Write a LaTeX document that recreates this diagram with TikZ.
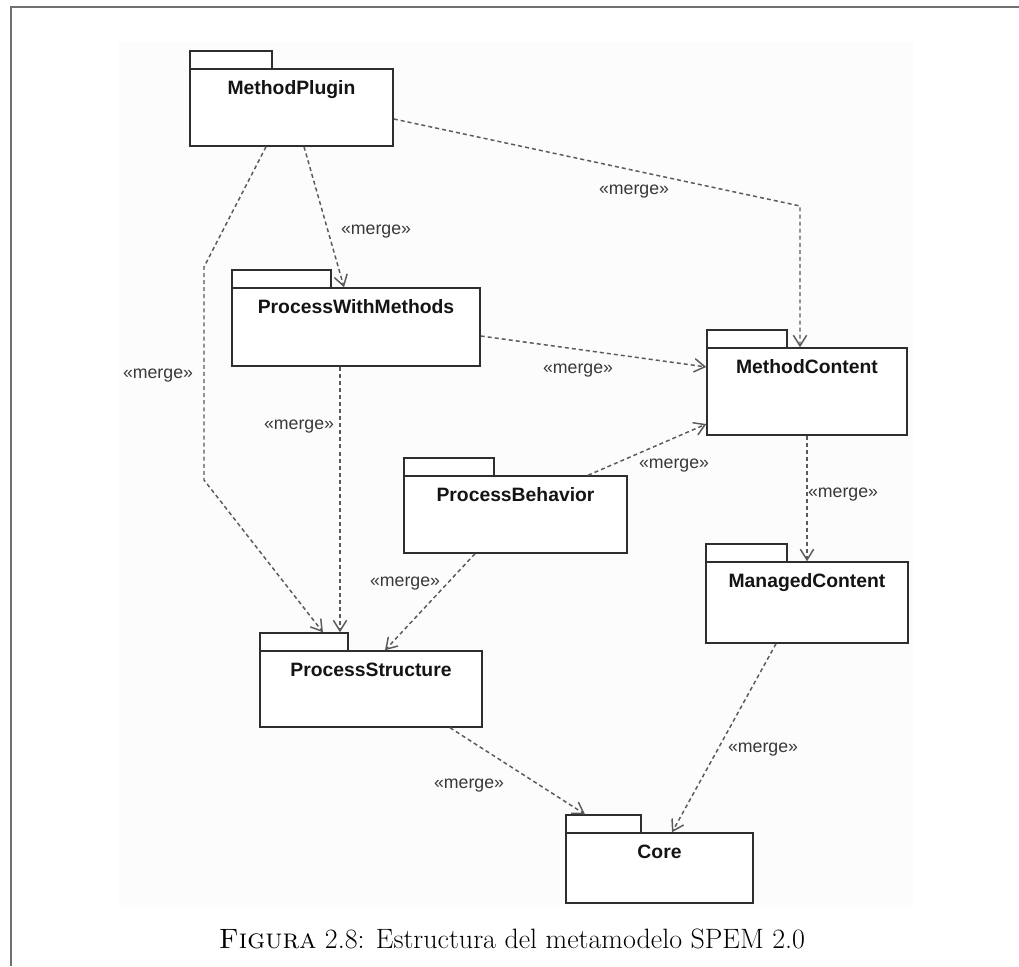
\documentclass[tikz,border=0pt]{standalone}
\usepackage{fontspec}
\newfontfamily\diagfont{Liberation Sans}
\usetikzlibrary{arrows.meta,fit}

\definecolor{framegray}{HTML}{707070}
\definecolor{pkgedge}{HTML}{2E2E2E}
\definecolor{depline}{HTML}{5A5A5A}
\definecolor{labelgray}{HTML}{3A3838}
\definecolor{canvas}{HTML}{FCFCFC}

\tikzset{
  pkgline/.style={draw=pkgedge, line width=1.1pt, line join=miter},
  pkgbody/.style={pkgline, fill=white, inner sep=0pt},
  pkgtitle/.style={font=\diagfont\bfseries\fontsize{14.5}{17}\selectfont,
    text=black!92, anchor=base, inner sep=0pt},
  merge/.style={draw=depline, line width=1.1pt, dash pattern=on 3pt off 2.3pt,
    -{Straight Barb[length=8pt,width=10pt,line width=1.1pt]}},
  mlabel/.style={font=\diagfont\fontsize{13.3}{16}\selectfont, text=labelgray, inner sep=0pt},
}

% UML package: name, body top-left (x,y), body bottom-right (x,y), tab right x, title
\newcommand{\umlpkg}[7]{%
  \node[pkgbody, fit={(#2,#3) (#4,#5)}] (#1) {};
  \node[pkgbody, fit={(#2,#3-18) (#6,#3)}] (#1-tab) {};
  \node[pkgtitle] (#1-title) at ([yshift=-19.5pt]#1.north) {#7};
}

\begin{document}
\begin{tikzpicture}[x=0.75pt,y=-0.75pt]
  \useasboundingbox (0,0) rectangle (1019,966);

  % page frame and diagram canvas
  \fill[canvas] (119,42) rectangle (913,907);
  \draw[framegray, line width=1.5pt] (1019,7) -- (11,7) -- (11,966);

  % packages
  \umlpkg{mp}{190}{69}{393}{146}{272}{MethodPlugin}
  \umlpkg{pwm}{232}{288}{480}{366}{331}{ProcessWithMethods}
  \umlpkg{mc}{707}{348}{907}{435}{787}{MethodContent}
  \umlpkg{pb}{404}{476}{627}{553}{494}{ProcessBehavior}
  \umlpkg{mgc}{706}{562}{908}{643}{787}{ManagedContent}
  \umlpkg{ps}{260}{651}{482}{727}{348}{ProcessStructure}
  \umlpkg{core}{566}{833}{753}{903}{641}{Core}

  % bend points
  \coordinate (b1) at (800,206);
  \coordinate (b3a) at (204,267);
  \coordinate (b3b) at (204,480);
  \coordinate (s4) at ([xshift=-12pt]pwm.south);

  % merge dependencies
  \draw[merge] ([yshift=-8.6pt]mp.east) -- (b1) -- (b1 |- mc.north);
  \draw[merge] ([xshift=9.4pt]mp.south) -- ([xshift=-9pt]pwm.north);
  \draw[merge] ([xshift=-19.1pt]mp.south) -- (b3a) -- (b3b) -- ([xshift=14.2pt]ps-tab.north);
  \draw[merge] (s4) -- (s4 |- ps-tab.north);
  \draw[merge] ([yshift=-6.75pt]pwm.east) -- ([yshift=18.4pt]mc.west);
  \draw[merge] ([xshift=54.4pt]pb.north) -- ([yshift=-24.4pt]mc.west);
  \draw[merge] ([xshift=-30.4pt]pb.south) -- ([xshift=10.5pt]ps.north);
  \draw[merge] (mc.south) -- (mgc.north);
  \draw[merge] ([xshift=-23.25pt]mgc.south) -- ([xshift=9.4pt]core.north);
  \draw[merge] ([xshift=59.25pt]ps.south) -- ([xshift=-13.9pt]core-tab.north);

  % stereotype labels
  \node[mlabel] (l1) at (634,192) {«merge»};
  \node[mlabel] (l2) at (376,232) {«merge»};
  \node[mlabel] (l3) at (158,376) {«merge»};
  \node[mlabel] (l4) at (299,427) {«merge»};
  \node[mlabel] (l5) at (578,371) {«merge»};
  \node[mlabel] (l6) at (674,466) {«merge»};
  \node[mlabel] (l7) at (405,584) {«merge»};
  \node[mlabel] (l8) at (843,495) {«merge»};
  \node[mlabel] (l9) at (763,750) {«merge»};
  \node[mlabel] (l10) at (469,786) {«merge»};

  % caption
  \node[font=\fontsize{21}{25}\selectfont, inner sep=0pt] (caption) at (512,939)
    {\textsc{Figura} 2.8: Estructura del metamodelo SPEM 2.0};
\end{tikzpicture}
\end{document}
